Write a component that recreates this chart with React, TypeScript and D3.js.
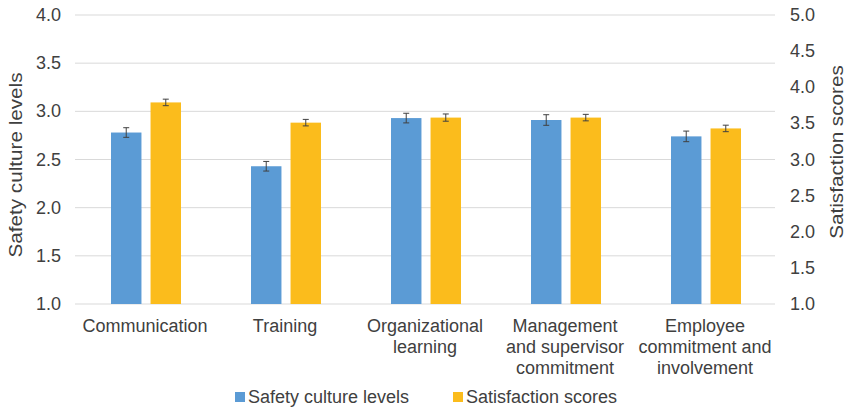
import React from "react";
import * as d3 from "d3";

const categories: string[][] = [
  ["Communication"],
  ["Training"],
  ["Organizational", "learning"],
  ["Management", "and supervisor", "commitment"],
  ["Employee", "commitment and", "involvement"],
];
const seriesNames = ["Safety culture levels", "Satisfaction scores"];
const safetyValues = [2.78, 2.43, 2.93, 2.91, 2.74];
const safetyErrors = [0.05, 0.05, 0.05, 0.055, 0.055];
const satisfactionValues = [3.79, 3.51, 3.58, 3.58, 3.43];
const satisfactionErrors = [0.045, 0.045, 0.05, 0.045, 0.045];
const leftTicks = [1.0, 1.5, 2.0, 2.5, 3.0, 3.5, 4.0];
const rightTicks = [1.0, 1.5, 2.0, 2.5, 3.0, 3.5, 4.0, 4.5, 5.0];

const W = 847;
const H = 410;
const FONT = "'Liberation Sans', Arial, sans-serif";
const TXT = "#404040";
const COLORS = ["#5b9bd5", "#fbbc1c"];

export default function App() {
  const x = d3.scaleBand<number>().domain(d3.range(categories.length)).range([75, 775]).padding(0);
  const inner = d3.scaleBand<number>().domain([0, 1]).range([36, 106]).paddingInner(0.23).paddingOuter(0);
  const yL = d3.scaleLinear().domain([1, 4]).range([304, 15]);
  const yR = d3.scaleLinear().domain([1, 5]).range([304, 15]);
  const fmt = d3.format(".1f");

  const series = [
    { vals: safetyValues, errs: safetyErrors, y: yL },
    { vals: satisfactionValues, errs: satisfactionErrors, y: yR },
  ];

  return (
    <svg width={W} height={H} style={{ position: "absolute", left: 0, top: 0 }} fontFamily={FONT}>
      <rect width={W} height={H} fill="#fff" />
      {leftTicks.map((t) => (
        <line key={"g" + t} x1={75} x2={775} y1={yL(t)} y2={yL(t)} stroke="#d9d9d9" strokeWidth={1} />
      ))}
      {leftTicks.map((t) => (
        <text key={"l" + t} x={61} y={yL(t) + 6} textAnchor="end" fontSize={18} fill={TXT}>
          {fmt(t)}
        </text>
      ))}
      {rightTicks.map((t) => (
        <text key={"r" + t} x={790} y={yR(t) + 6} textAnchor="start" fontSize={18} fill={TXT}>
          {fmt(t)}
        </text>
      ))}
      {series.map((s, si) =>
        s.vals.map((v, i) => {
          const bx = (x(i) as number) + (inner(si) as number);
          const bw = inner.bandwidth();
          const cx = bx + bw / 2;
          return (
            <g key={si + "-" + i}>
              <rect x={bx} y={s.y(v)} width={bw} height={s.y(s.y.domain()[0]) - s.y(v)} fill={COLORS[si]} />
              <line x1={cx} x2={cx} y1={s.y(v + s.errs[i])} y2={s.y(v - s.errs[i])} stroke="#404040" strokeWidth={1} />
              <line x1={cx - 3} x2={cx + 3} y1={s.y(v + s.errs[i])} y2={s.y(v + s.errs[i])} stroke="#404040" strokeWidth={1} />
              <line x1={cx - 3} x2={cx + 3} y1={s.y(v - s.errs[i])} y2={s.y(v - s.errs[i])} stroke="#404040" strokeWidth={1} />
            </g>
          );
        })
      )}
      {categories.map((lines, i) => (
        <text key={"c" + i} textAnchor="middle" fontSize={18} fill={TXT}>
          {lines.map((ln, j) => (
            <tspan key={j} x={(x(i) as number) + x.bandwidth() / 2} y={332 + j * 21}>
              {ln}
            </tspan>
          ))}
        </text>
      ))}
      <text transform="translate(22,165) rotate(-90) scale(1.15,1)" textAnchor="middle" fontSize={18} fill={TXT}>
        {"Safety culture levels"}
      </text>
      <text transform="translate(843,152) rotate(-90) scale(1.15,1)" textAnchor="middle" fontSize={18} fill={TXT}>
        {"Satisfaction scores"}
      </text>
      {seriesNames.map((n, i) => {
        const lx = [235, 453][i];
        return (
          <g key={"lg" + i}>
            <rect x={lx} y={392} width={10} height={10} fill={COLORS[i]} />
            <text x={lx + 13} y={403} fontSize={18} fill={TXT}>
              {n}
            </text>
          </g>
        );
      })}
    </svg>
  );
}
